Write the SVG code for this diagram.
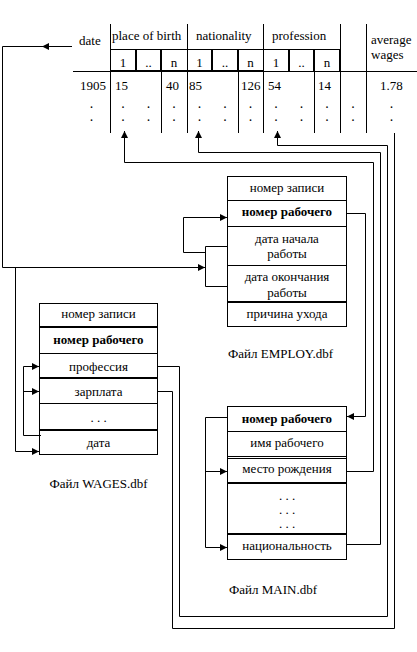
<svg xmlns="http://www.w3.org/2000/svg" width="417" height="652" viewBox="0 0 417 652">
<style>
.t{font-family:"Liberation Serif","Times New Roman",serif;font-size:13px;fill:#000}
.d{font-family:"Liberation Serif","Times New Roman",serif;font-size:10px;font-weight:bold;fill:#000;text-anchor:middle}
.b{font-weight:bold}
.m{text-anchor:middle}
.ln{stroke:#000;stroke-width:1;fill:none;shape-rendering:crispEdges}
.th{stroke:#000;stroke-width:2;fill:none;shape-rendering:crispEdges}
.box{fill:#fff;stroke:#000;stroke-width:1;shape-rendering:crispEdges}
.c{stroke:#000;stroke-width:1;fill:none}
.a{marker-end:url(#arr)}
</style>
<defs>
<marker id="arr" markerUnits="userSpaceOnUse" markerWidth="7" markerHeight="7" refX="7" refY="3.5" orient="auto">
<path d="M0,0 L7,3.5 L0,7 z" fill="#000"/>
</marker>
</defs>
<rect width="417" height="652" fill="#fff"/>

<g id="table">
<path class="ln" d="M110.5,24V133M187.5,24V133M263.5,24V133M340.5,24V49M366.5,24V133M161.5,71V133M238.5,71V133M314.5,71V133M340.5,71V133"/>
<path class="ln" d="M110,49.5H340M73,71.5H417"/>
<path class="th" d="M110,71H263M136,49V71M161,49V71M212,49V71M238,49V71M289,49V71M314,49V71M340,49V71"/>
<text class="t" x="79" y="45">date</text>
<text class="t" x="112" y="40">place of birth</text>
<text class="t" x="196" y="40">nationality</text>
<text class="t" x="272" y="40">profession</text>
<text class="t" x="371" y="44">average</text>
<text class="t" x="371" y="59">wages</text>
<g class="t m">
<text x="123" y="67">1</text><text x="148.5" y="67">..</text><text x="174" y="67">n</text>
<text x="199.5" y="67">1</text><text x="225" y="67">..</text><text x="250.5" y="67">n</text>
<text x="276" y="67">1</text><text x="301.5" y="67">..</text><text x="327" y="67">n</text>
</g>
<text class="t" x="80" y="90">1905</text>
<text class="t" x="115" y="90">15</text>
<text class="t" x="166" y="90">40</text>
<text class="t" x="189" y="90">85</text>
<text class="t" x="241" y="90">126</text>
<text class="t" x="268" y="90">54</text>
<text class="t" x="318" y="90">14</text>
<text class="t" x="380" y="90">1.78</text>
<g class="d">
<text x="91.5" y="108">.</text><text x="123" y="108">.</text><text x="148.5" y="108">.</text><text x="174" y="108">.</text><text x="199.5" y="108">.</text><text x="225" y="108">.</text><text x="250.5" y="108">.</text><text x="276" y="108">.</text><text x="301.5" y="108">.</text><text x="327" y="108">.</text><text x="353" y="108">.</text><text x="391.5" y="108">.</text>
<text x="91.5" y="121">.</text><text x="123" y="121">.</text><text x="148.5" y="121">.</text><text x="174" y="121">.</text><text x="199.5" y="121">.</text><text x="225" y="121">.</text><text x="250.5" y="121">.</text><text x="276" y="121">.</text><text x="301.5" y="121">.</text><text x="327" y="121">.</text><text x="353" y="121">.</text><text x="391.5" y="121">.</text>
</g>
</g>

<g id="employ">
<rect class="box" x="227.5" y="176.5" width="119" height="150"/>
<path class="ln" d="M227,200.5H347M227,226.5H347M227,265.5H347"/>
<path class="th" d="M227,302H347"/>
<g class="t m">
<text x="287" y="192">номер записи</text>
<text class="b" x="287" y="216">номер рабочего</text>
<text x="287" y="243">дата начала</text>
<text x="287" y="258">работы</text>
<text x="287" y="281">дата окончания</text>
<text x="287" y="297">работы</text>
<text x="287" y="318">причина ухода</text>
</g>
<text class="t" x="228" y="358">Файл EMPLOY.dbf</text>
</g>

<g id="wages">
<rect class="box" x="39.5" y="303.5" width="118" height="151"/>
<path class="ln" d="M39,353.5H158M39,403.5H158"/>
<path class="th" d="M39,327H158M39,378H158M39,430H158"/>
<g class="t m">
<text x="98.5" y="318">номер записи</text>
<text class="b" x="98.5" y="344">номер рабочего</text>
<text x="98.5" y="371">профессия</text>
<text x="98.5" y="396">зарплата</text>
<text x="98.5" y="422">. . .</text>
<text x="98.5" y="447">дата</text>
<text x="98.5" y="488">Файл WAGES.dbf</text>
</g>
</g>

<g id="main">
<rect class="box" x="227.5" y="406.5" width="119" height="153"/>
<path class="ln" d="M227,431.5H347M227,456.5H347M227,458.5H347"/>
<path class="th" d="M227,483H347M227,534H347"/>
<g class="t m">
<text class="b" x="287" y="423">номер рабочего</text>
<text x="287" y="447">имя рабочего</text>
<text x="287" y="473">место рождения</text>
<text x="287" y="500">. . .</text>
<text x="287" y="514">. . .</text>
<text x="287" y="528">. . .</text>
<text x="287" y="550">национальность</text>
</g>
<text class="t" x="229" y="594">Файл MAIN.dbf</text>
</g>

<g id="connectors">
<path class="c a" d="M72,46.5H42"/>
<path class="c a" d="M42,46.5H2.5V267.5H205"/>
<path class="c a" d="M15.5,267.5V451.5H39"/>
<path class="c" d="M227,246.5H205.5V286.5H227"/>
<path class="c a" d="M205.5,252.5H183.5V217.5H227"/>
<path class="c a" d="M347,213.5H365.5V416.5H347"/>
<path class="c a" d="M227,417.5H205.5V547.5H227"/>
<path class="c a" d="M205.5,471.5H227"/>
<path class="c a" d="M347,471.5H373.5V162.5H124.5V131"/>
<path class="c a" d="M347,544.5H380.5V152.5H198.5V131"/>
<path class="c a" d="M158,366.5H179.5V616.5H387.5V145.5H277.5V131"/>
<path class="c" d="M158,391.5H172.5V628.5H394.5V133"/>
<path class="c a" d="M41,435.5H23.5V366.5H39"/>
<path class="c a" d="M23.5,391.5H39"/>
</g>
</svg>
